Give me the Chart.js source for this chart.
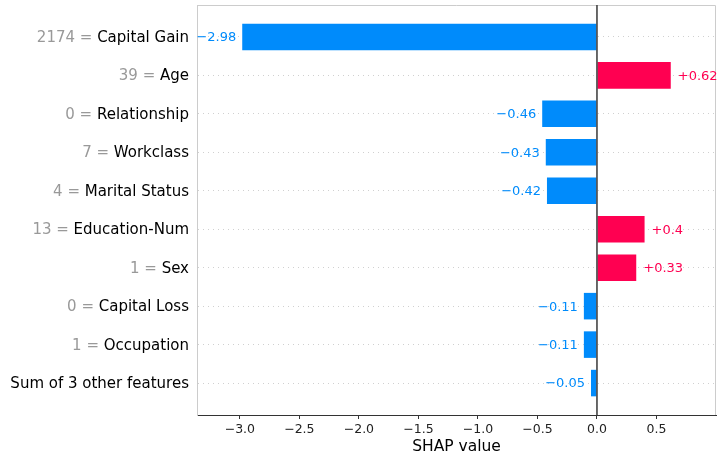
<!DOCTYPE html>
<html>
<head>
<meta charset="utf-8">
<script src="https://cdn.jsdelivr.net/npm/chart.js@4/dist/chart.umd.min.js"></script>
<style>
  html, body { margin: 0; padding: 0; background: #fff; }
  #holder { width: 720px; height: 454px; }
</style>
</head>
<body>
<div id="holder"><canvas id="chart"></canvas></div>
<script>
"use strict";
// feature values shown in grey before the feature name ("" = no value)
const featureValues = ["2174", "39", "0", "7", "4", "13", "1", "0", "1", ""];
const featureNames = ["Capital Gain", "Age", "Relationship", "Workclass", "Marital Status",
    "Education-Num", "Sex", "Capital Loss", "Occupation", "Sum of 3 other features"];
const shapValues = [-2.98, 0.62, -0.46, -0.43, -0.42, 0.4, 0.33, -0.11, -0.11, -0.05];
const xTicks = [-3.0, -2.5, -2.0, -1.5, -1.0, -0.5, 0.0, 0.5];

const BLUE = "#008bfb";
const RED = "#ff0051";
const FONT = "'DejaVu Sans', sans-serif";

const MINUS = "\u2212";
function fmtTick(v) {
    return v < 0 ? MINUS + Math.abs(v).toFixed(1) : v.toFixed(1);
}
function fmtValue(v) {
    return (v > 0 ? "+" : MINUS) + Math.abs(v);
}

/**
 * Feature labels, value labels, zero line and the frame
 */
const shapPlugin = {
    id: "shapPlugin",
    beforeDatasetsDraw(chart) {
        const { ctx, chartArea } = chart;
        ctx.save();
        ctx.strokeStyle = "#cccccc";
        ctx.lineWidth = 1;
        ctx.beginPath();
        ctx.moveTo(chartArea.left, chartArea.top + 0.5);
        ctx.lineTo(chartArea.right - 0.5, chartArea.top + 0.5);
        ctx.lineTo(chartArea.right - 0.5, chartArea.bottom);
        ctx.stroke();
        ctx.restore();
    },
    afterDatasetsDraw(chart) {
        const { ctx, chartArea } = chart;
        const xs = chart.scales.x;
        const ys = chart.scales.y;
        ctx.save();
        // zero line
        const x0 = xs.getPixelForValue(0);
        ctx.strokeStyle = "#444444";
        ctx.lineWidth = 1.6;
        ctx.beginPath();
        ctx.moveTo(x0, chartArea.top);
        ctx.lineTo(x0, chartArea.bottom);
        ctx.stroke();

        // feature labels, two colours
        ctx.textBaseline = "middle";
        ctx.textAlign = "right";
        ctx.font = "15px " + FONT;
        featureNames.forEach((name, i) => {
            const y = ys.getPixelForValue(i) + 1;
            const x = chartArea.left - 8;
            ctx.fillStyle = "#000000";
            ctx.fillText(name, x, y);
            if (featureValues[i] !== "") {
                const w = ctx.measureText(name).width;
                ctx.fillStyle = "#999999";
                ctx.fillText(featureValues[i] + " = ", x - w, y);
            }
        });

        // value labels at the bar ends
        ctx.font = "13px " + FONT;
        const meta = chart.getDatasetMeta(0);
        meta.data.forEach((bar, i) => {
            const v = shapValues[i];
            if (v < 0) {
                ctx.textAlign = "right";
                ctx.fillStyle = BLUE;
                ctx.fillText(fmtValue(v), bar.x - 6, bar.y + 1);
            } else {
                ctx.textAlign = "left";
                ctx.fillStyle = RED;
                ctx.fillText(fmtValue(v), bar.x + 7, bar.y + 1);
            }
        });
        ctx.restore();
    },
};

const HOLDER = document.getElementById("chart");
new Chart(HOLDER, {
    type: "bar",
    data: {
        datasets: [{
            data: shapValues.map((v, i) => ({ x: v, y: i })),
            backgroundColor: shapValues.map((v) => (v < 0 ? BLUE : RED)),
            borderWidth: 0,
            barPercentage: 0.69,
            categoryPercentage: 1,
        }],
    },
    options: {
        indexAxis: "y",
        responsive: true,
        maintainAspectRatio: false,
        animation: false,
        layout: { padding: { top: 5, right: 4, left: 0, bottom: 0 } },
        plugins: {
            legend: { display: false },
            tooltip: { enabled: false },
        },
        scales: {
            x: {
                type: "linear",
                min: -3.36,
                max: 1.0,
                afterBuildTicks: (s) => {
                    s.ticks = xTicks.map((v) => ({ value: v }));
                },
                afterFit: (s) => {
                    s.height = 39;
                },
                grid: {
                    drawOnChartArea: false,
                    drawTicks: true,
                    tickLength: 4,
                    color: "#333333",
                },
                border: { color: "#333333", width: 1 },
                ticks: {
                    color: "#222222",
                    padding: 3,
                    font: { family: FONT, size: 12.5 },
                    callback: (v) => fmtTick(v),
                },
                title: {
                    display: true,
                    text: "SHAP value",
                    color: "#000000",
                    font: { family: FONT, size: 15.5 },
                    padding: { top: 0, bottom: -2 },
                },
            },
            y: {
                type: "linear",
                reverse: true,
                offset: false,
                min: -0.83,
                max: 9.83,
                afterBuildTicks: (s) => {
                    s.ticks = featureNames.map((_, i) => ({ value: i }));
                },
                afterFit: (s) => {
                    s.width = 197;
                },
                grid: {
                    offset: false,
                    drawTicks: false,
                    color: "#d0d0d0",
                    lineWidth: 1,
                },
                border: { color: "#cccccc", dash: [1, 4] },
                ticks: { display: false },
            },
        },
    },
    plugins: [shapPlugin],
});
</script>
</body>
</html>
